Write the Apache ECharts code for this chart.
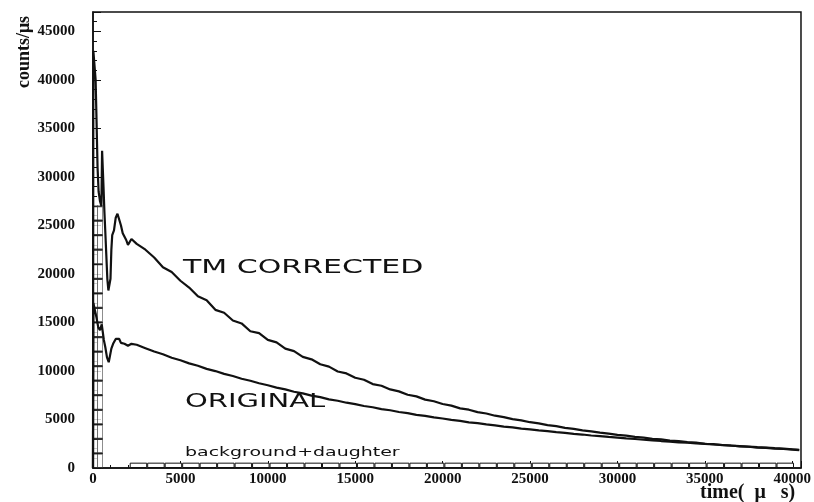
<!DOCTYPE html>
<html>
<head>
<meta charset="utf-8">
<script src="https://cdn.jsdelivr.net/npm/echarts@6/dist/echarts.min.js"></script>
<style>html,body{margin:0;padding:0;background:#fff}#c{width:814px;height:502px}</style>
</head>
<body>
<div id="c"></div>
<script>
// ---- data ----
const xTicks = [0, 5000, 10000, 15000, 20000, 25000, 30000, 35000, 40000];
const yTicks = [0, 5000, 10000, 15000, 20000, 25000, 30000, 35000, 40000, 45000];

// early part (histogram-like structure), time in µs
const tmEarlyTime   = [0, 20, 100, 150, 200, 260, 320, 400, 480, 520, 560, 600, 650, 700, 760, 820, 880, 950, 1000, 1050, 1100, 1200, 1300, 1400, 1500, 1600, 1700, 1800, 1900, 2000, 2100, 2200, 2300];
const tmEarlyCounts = [0, 43000, 43000, 40000, 36000, 31000, 28500, 27500, 27000, 32700, 32500, 29000, 26500, 24500, 22000, 19500, 18300, 18300, 19500, 22500, 24000, 24500, 25800, 26200, 26200, 25000, 24200, 24000, 23500, 23000, 23000, 23600, 23400];
const orEarlyTime   = [0, 20, 100, 200, 300, 400, 500, 560, 620, 700, 800, 900, 980, 1050, 1150, 1300, 1400, 1500, 1600, 1700, 1800, 1900, 2000, 2100, 2200, 2300];
const orEarlyCounts = [0, 17000, 16800, 15500, 14500, 14200, 14800, 14000, 13200, 12500, 11400, 10900, 11000, 12300, 12800, 13300, 13400, 13300, 12900, 12700, 12800, 12700, 12600, 12500, 12800, 12900];

// decay part
const decayTime = [2500, 3000, 3500, 4000, 4500, 5000, 5500, 6000, 6500, 7000, 7500, 8000, 8500, 9000, 9500, 10000,
  10500, 11000, 11500, 12000, 12500, 13000, 13500, 14000, 14500, 15000, 15500, 16000, 16500, 17000, 17500, 18000,
  18500, 19000, 19500, 20000, 20500, 21000, 21500, 22000, 22500, 23000, 23500, 24000, 24500, 25000, 25500, 26000,
  26500, 27000, 27500, 28000, 28500, 29000, 29500, 30000, 30500, 31000, 31500, 32000, 32500, 33000, 33500, 34000,
  34500, 35000, 35500, 36000, 36500, 37000, 37500, 38000, 38500, 39000, 39500, 40000, 40400];
const tmCounts = [23100, 22500, 21700, 20700, 20200, 19300, 18600, 17700, 17300, 16300, 16000, 15200, 14900, 14100, 13900, 13200,
  12950, 12300, 12050, 11450, 11200, 10700, 10450, 9950, 9750, 9300, 9100, 8650, 8480, 8100, 7900, 7550,
  7380, 7050, 6880, 6600, 6430, 6150, 6010, 5760, 5620, 5390, 5250, 5040, 4910, 4720, 4600, 4420,
  4310, 4140, 4040, 3880, 3780, 3640, 3550, 3410, 3330, 3200, 3130, 3010, 2950, 2830, 2770, 2660,
  2610, 2500, 2460, 2360, 2320, 2230, 2190, 2100, 2070, 1990, 1960, 1890, 1850];
const originalCounts = [12700, 12350, 12000, 11720, 11360, 11100, 10780, 10540, 10220, 9990, 9700, 9480, 9200, 8990, 8730, 8530,
  8290, 8100, 7860, 7690, 7460, 7300, 7080, 6930, 6730, 6590, 6390, 6260, 6070, 5950, 5770, 5650,
  5480, 5380, 5210, 5100, 4960, 4850, 4710, 4620, 4490, 4400, 4270, 4190, 4060, 3990, 3870, 3800,
  3690, 3620, 3510, 3450, 3350, 3290, 3200, 3130, 3050, 2990, 2910, 2850, 2780, 2720, 2650, 2600,
  2540, 2480, 2420, 2370, 2310, 2260, 2210, 2150, 2100, 2040, 1990, 1930, 1880];

// background + daughter band
const bgTime = [2600, 3600, 4600, 5600, 6600, 7600, 8600, 9600, 10600, 11600, 12600, 13600, 14600, 15600, 16600, 17600, 18600,
  19600, 20600, 21600, 22600, 23600, 24600, 25600, 26600, 27600, 28600, 29600, 30600, 31600, 32600, 33600, 34600, 35600,
  36600, 37600, 38600, 39600];
const bgCounts = [550, 550, 550, 550, 550, 550, 550, 550, 550, 550, 550, 550, 550, 550, 550, 550, 550,
  550, 550, 550, 550, 550, 550, 550, 550, 550, 550, 550, 550, 550, 550, 550, 550, 550,
  550, 550, 550, 550];

// hatched box column near t = 0
const boxTime = [130, 400];
const boxLevels = [750, 2250, 3750, 5250, 6750, 8250, 9750, 11250, 12750, 14250, 15750, 17250, 18750, 20250, 21750, 23250, 24750, 26250];

// ---- build ----
const zip = (a, b) => a.map((v, i) => [v, b[i]]);
const tmData = zip(tmEarlyTime, tmEarlyCounts).concat(zip(decayTime, tmCounts));
const orData = zip(orEarlyTime, orEarlyCounts).concat(zip(decayTime, originalCounts));
const bgData = zip(bgTime, bgCounts);
const boxData = [];
boxTime.forEach(t => boxLevels.forEach(l => boxData.push([t, l])));

const serif = '"Liberation Serif", "DejaVu Serif", serif';
const sans = '"DejaVu Sans", sans-serif';
const ink = '#111';

const chart = echarts.init(document.getElementById('c'), null, {renderer: 'canvas'});
chart.setOption({
  animation: false,
  backgroundColor: '#fff',
  grid: {left: 93, right: 12, top: 12, bottom: 34, show: true, borderColor: ink, borderWidth: 1.5, backgroundColor: 'transparent'},
  xAxis: {
    type: 'value', min: 0, max: 40500, interval: 5000,
    axisLine: {onZero: false, lineStyle: {color: ink, width: 1.5}},
    axisTick: {inside: true, length: 7, lineStyle: {color: ink}},
    minorTick: {show: true, splitNumber: 5, length: 3, lineStyle: {color: ink}},
    splitLine: {show: false},
    axisLabel: {margin: 4, color: ink, fontFamily: serif, fontWeight: 'bold', fontSize: 15,
      formatter: v => xTicks.indexOf(v) >= 0 ? String(v) : ''}
  },
  yAxis: {
    type: 'value', min: 0, max: 47000, interval: 5000,
    axisLine: {lineStyle: {color: ink, width: 1.5}},
    axisTick: {inside: true, length: 8, lineStyle: {color: ink}},
    minorTick: {show: true, splitNumber: 5, length: 4, lineStyle: {color: ink}},
    splitLine: {show: false},
    axisLabel: {margin: 18, color: ink, fontFamily: serif, fontWeight: 'bold', fontSize: 15,
      formatter: v => yTicks.indexOf(v) >= 0 ? String(v) : ''}
  },
  series: [
    {type: 'scatter', data: boxData, symbol: 'rect', symbolSize: [5, 14], z: 1,
      itemStyle: {color: '#fff', borderColor: ink, borderWidth: 1}, silent: true},
    {type: 'bar', data: bgData, barWidth: 17.5, z: 1,
      itemStyle: {color: '#fff', borderColor: ink, borderWidth: 1}, silent: true},
    {type: 'line', data: orData, showSymbol: false, z: 3,
      lineStyle: {color: ink, width: 2.2}},
    {type: 'line', data: tmData, showSymbol: false, z: 4,
      lineStyle: {color: ink, width: 2.2}}
  ],
  graphic: [
    {type: 'text', x: 24, y: 52, rotation: Math.PI / 2,
      style: {text: 'counts/μs', font: 'bold 18px ' + serif, fill: ink, textAlign: 'center', textVerticalAlign: 'middle'}},
    {type: 'text', x: 700, y: 493,
      style: {text: 'time(  μ   s)', font: 'bold 20px ' + serif, fill: ink, textAlign: 'left', textVerticalAlign: 'middle'}},
    {type: 'text', x: 183, y: 268, scaleX: 1.5,
      style: {text: 'TM CORRECTED', font: '20px ' + sans, fill: ink, textAlign: 'left', textVerticalAlign: 'middle'}},
    {type: 'text', x: 185, y: 402, scaleX: 1.45,
      style: {text: 'ORIGINAL', font: '20px ' + sans, fill: ink, textAlign: 'left', textVerticalAlign: 'middle'}},
    {type: 'text', x: 185, y: 453, scaleX: 1.58,
      style: {text: 'background+daughter', font: '12px ' + sans, fill: ink, textAlign: 'left', textVerticalAlign: 'middle'}}
  ]
});
</script>
</body>
</html>
